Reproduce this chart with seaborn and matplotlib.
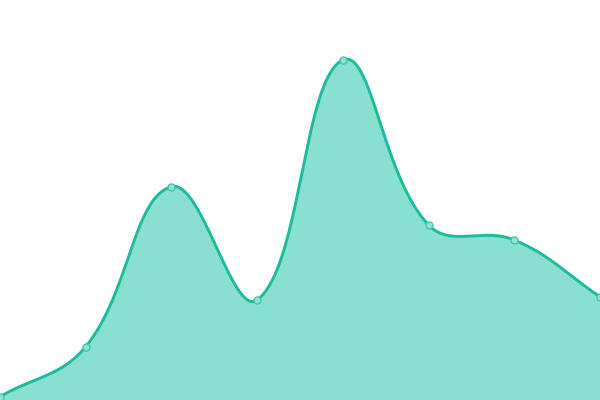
import numpy as np
import pandas as pd
import matplotlib
matplotlib.use("Agg")
import matplotlib.pyplot as plt
import seaborn as sns

# data
categories = list(range(8))
values = [1, 16, 64, 30, 102, 52.5, 48, 31]

LINE = "#1abc9c"
FILL = "#8ae0d0"
TENSION = 0.4


def smooth_path(px, py, t=TENSION, n=80):
    """Distance-weighted cubic Bezier spline in display space."""
    N = len(px)
    P = np.column_stack([px, py])
    cin = np.zeros_like(P)
    cout = np.zeros_like(P)
    for i in range(N):
        prev = P[max(i - 1, 0)]
        nxt = P[min(i + 1, N - 1)]
        cur = P[i]
        d01 = np.hypot(*(cur - prev))
        d12 = np.hypot(*(nxt - cur))
        tot = d01 + d12
        s01 = d01 / tot if tot else 0
        s12 = d12 / tot if tot else 0
        cin[i] = cur - t * s01 * (nxt - prev)
        cout[i] = cur + t * s12 * (nxt - prev)
    ox, oy = [P[0, 0]], [P[0, 1]]
    tt = np.linspace(0, 1, n)[1:]
    a, b, c, d = (1 - tt) ** 3, 3 * (1 - tt) ** 2 * tt, 3 * (1 - tt) * tt ** 2, tt ** 3
    for i in range(N - 1):
        p0, p1, p2, p3 = P[i], cout[i], cin[i + 1], P[i + 1]
        ox.extend(a * p0[0] + b * p1[0] + c * p2[0] + d * p3[0])
        oy.extend(a * p0[1] + b * p1[1] + c * p2[1] + d * p3[1])
    return np.array(ox), np.array(oy)


sns.set_style("white")
fig = plt.figure(figsize=(6, 4), dpi=100)
ax = fig.add_axes([0, 0, 1, 1])
ax.set_xlim(0, 7)
ax.set_ylim(0, 120)
ax.axis("off")

disp = ax.transData.transform(np.column_stack([categories, values]))
sx, sy = smooth_path(disp[:, 0], disp[:, 1])
back = ax.transData.inverted().transform(np.column_stack([sx, sy]))
smooth = pd.DataFrame({"x": back[:, 0], "y": back[:, 1]})
pts = pd.DataFrame({"x": categories, "y": values})

ax.fill_between(smooth["x"], smooth["y"], 0, color=FILL, linewidth=0)
sns.lineplot(data=smooth, x="x", y="y", ax=ax, color=LINE, linewidth=2.1, sort=False)
sns.scatterplot(data=pts, x="x", y="y", ax=ax, s=26, color="#92e2d3", edgecolor="#3cc4a8", linewidth=0.9, zorder=5)
ax.set_xlim(0, 7)
ax.set_ylim(0, 120)
fig.savefig("out.png", dpi=100)
